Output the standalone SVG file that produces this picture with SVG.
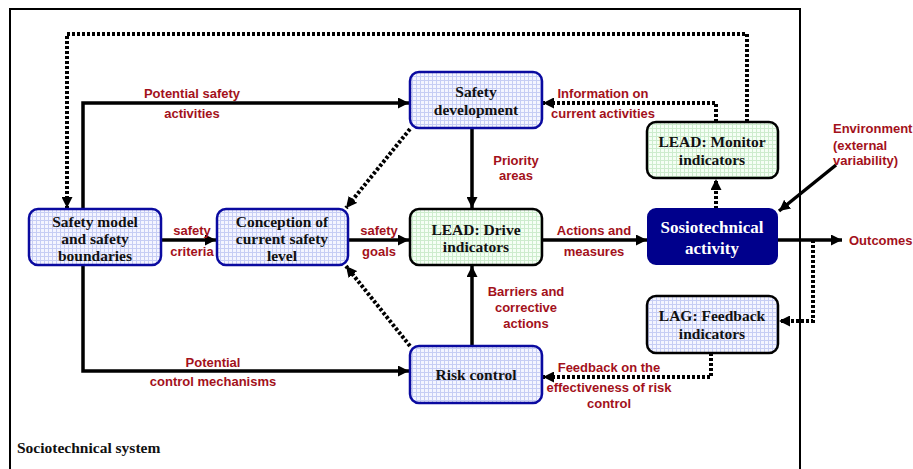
<svg xmlns="http://www.w3.org/2000/svg" width="913" height="469" viewBox="0 0 913 469">
  <defs>
    <pattern id="gridBlue" width="4" height="4" patternUnits="userSpaceOnUse">
      <rect width="4" height="4" fill="#f4f5ff"/>
      <path d="M0,0.5H4M0.5,0V4" stroke="#c6cdf4" stroke-width="1"/>
    </pattern>
    <pattern id="gridGreen" width="4" height="4" patternUnits="userSpaceOnUse">
      <rect width="4" height="4" fill="#f5fff5"/>
      <path d="M0,0.5H4M0.5,0V4" stroke="#cdeccd" stroke-width="1"/>
    </pattern>
    <marker id="arrow" viewBox="0 0 10 10" refX="10" refY="5" markerWidth="11" markerHeight="11" markerUnits="userSpaceOnUse" orient="auto">
      <path d="M0,0 L10,5 L0,10 z" fill="#000"/>
    </marker>
  </defs>
  <style>
    .frame { fill: none; stroke: #000; stroke-width: 2; }
    .node-blue { fill: url(#gridBlue); stroke: #0a0aa0; stroke-width: 2.5; }
    .node-green { fill: url(#gridGreen); stroke: #000; stroke-width: 2.5; }
    .node-lag { fill: url(#gridBlue); stroke: #000; stroke-width: 2.5; }
    .node-dark { fill: #00008c; stroke: #00008c; stroke-width: 2; }
    .solid { fill: none; stroke: #000; stroke-width: 3.5; marker-end: url(#arrow); }
    .dotted { fill: none; stroke: #000; stroke-width: 4; stroke-dasharray: 3 2; marker-end: url(#arrow); }
    .ntext { font-family: "Liberation Serif", "Times New Roman", serif; font-weight: bold; font-size: 15.5px; fill: #111; text-anchor: middle; }
    .wtext { font-family: "Liberation Serif", "Times New Roman", serif; font-weight: bold; font-size: 17px; fill: #fff; text-anchor: middle; }
    .label { font-family: "Liberation Sans", Arial, sans-serif; font-weight: bold; font-size: 13px; fill: #a3111b; text-anchor: middle; }
    .label-left { font-family: "Liberation Sans", Arial, sans-serif; font-weight: bold; font-size: 13px; fill: #a3111b; }
    .caption { font-family: "Liberation Serif", "Times New Roman", serif; font-weight: bold; font-size: 15.5px; fill: #111; }
  </style>

  <!-- system boundary -->
  <rect class="frame" x="10" y="9" width="790" height="470"/>
  <text class="caption" x="17" y="453">Sociotechnical system</text>

  <!-- connectors -->
  <g id="connectors">
    <!-- solid flows -->
    <path class="solid" d="M83,209 V103 H409"/>
    <path class="solid" d="M161,240 H216"/>
    <path class="solid" d="M348,240 H409"/>
    <path class="solid" d="M542,240 H647"/>
    <path class="solid" d="M777,240 H842"/>
    <path class="solid" d="M83,265 V371 H409"/>
    <path class="solid" d="M472,128 V208"/>
    <path class="solid" d="M472,346 V266"/>
    <path class="solid" d="M836,165 L779,211"/>
    <!-- dotted feedback -->
    <path class="dotted" d="M747,122 V34 H67 V208"/>
    <path class="dotted" d="M716,122 V103 H543"/>
    <path class="dotted" d="M716,209 V179"/>
    <path class="dotted" d="M813,240 V321 H779"/>
    <path class="dotted" d="M711,353 V377 H543"/>
    <path class="dotted" d="M410,129 L346,208"/>
    <path class="dotted" d="M410,346 L346,266"/>

    <!-- connector labels -->
    <text class="label" x="192" y="98">Potential safety</text>
    <text class="label" x="192" y="118">activities</text>
    <text class="label" x="192" y="235">safety</text>
    <text class="label" x="192" y="256">criteria</text>
    <text class="label" x="379" y="235">safety</text>
    <text class="label" x="379" y="256">goals</text>
    <text class="label" x="516" y="165">Priority</text>
    <text class="label" x="516" y="180">areas</text>
    <text class="label" x="603" y="98">Information on</text>
    <text class="label" x="603" y="118">current activities</text>
    <text class="label" x="594" y="235">Actions and</text>
    <text class="label" x="594" y="256">measures</text>
    <text class="label-left" x="849" y="245">Outcomes</text>
    <text class="label-left" x="833" y="133">Environment</text>
    <text class="label-left" x="833" y="150">(external</text>
    <text class="label-left" x="833" y="165">variability)</text>
    <text class="label" x="526" y="296">Barriers and</text>
    <text class="label" x="526" y="312">corrective</text>
    <text class="label" x="526" y="328">actions</text>
    <text class="label" x="609" y="372">Feedback on the</text>
    <text class="label" x="609" y="392">effectiveness of risk</text>
    <text class="label" x="609" y="408">control</text>
    <text class="label" x="213" y="367">Potential</text>
    <text class="label" x="213" y="386">control mechanisms</text>
  </g>

  <!-- nodes -->
  <g id="safety-model">
    <rect class="node-blue" x="29" y="209" width="132" height="56" rx="9"/>
    <text class="ntext" x="95" y="227">Safety model</text>
    <text class="ntext" x="95" y="244">and safety</text>
    <text class="ntext" x="95" y="261">boundaries</text>
  </g>
  <g id="conception">
    <rect class="node-blue" x="217" y="209" width="131" height="56" rx="9"/>
    <text class="ntext" x="282" y="227">Conception of</text>
    <text class="ntext" x="282" y="244">current safety</text>
    <text class="ntext" x="282" y="261">level</text>
  </g>
  <g id="safety-development">
    <rect class="node-blue" x="410" y="72" width="132" height="56" rx="9"/>
    <text class="ntext" x="476" y="97">Safety</text>
    <text class="ntext" x="476" y="115">development</text>
  </g>
  <g id="lead-drive">
    <rect class="node-green" x="410" y="209" width="132" height="56" rx="9"/>
    <text class="ntext" x="476" y="235">LEAD: Drive</text>
    <text class="ntext" x="476" y="252">indicators</text>
  </g>
  <g id="lead-monitor">
    <rect class="node-green" x="647" y="122" width="131" height="56" rx="9"/>
    <text class="ntext" x="712" y="147">LEAD: Monitor</text>
    <text class="ntext" x="712" y="165">indicators</text>
  </g>
  <g id="sociotechnical-activity">
    <rect class="node-dark" x="648" y="209" width="129" height="55" rx="8"/>
    <text class="wtext" x="712" y="233">Sosiotechnical</text>
    <text class="wtext" x="712" y="254">activity</text>
  </g>
  <g id="lag-feedback">
    <rect class="node-lag" x="647" y="296" width="131" height="57" rx="9"/>
    <text class="ntext" x="712" y="321">LAG: Feedback</text>
    <text class="ntext" x="712" y="339">indicators</text>
  </g>
  <g id="risk-control">
    <rect class="node-blue" x="410" y="346" width="132" height="57" rx="9"/>
    <text class="ntext" x="476" y="380">Risk control</text>
  </g>
</svg>
